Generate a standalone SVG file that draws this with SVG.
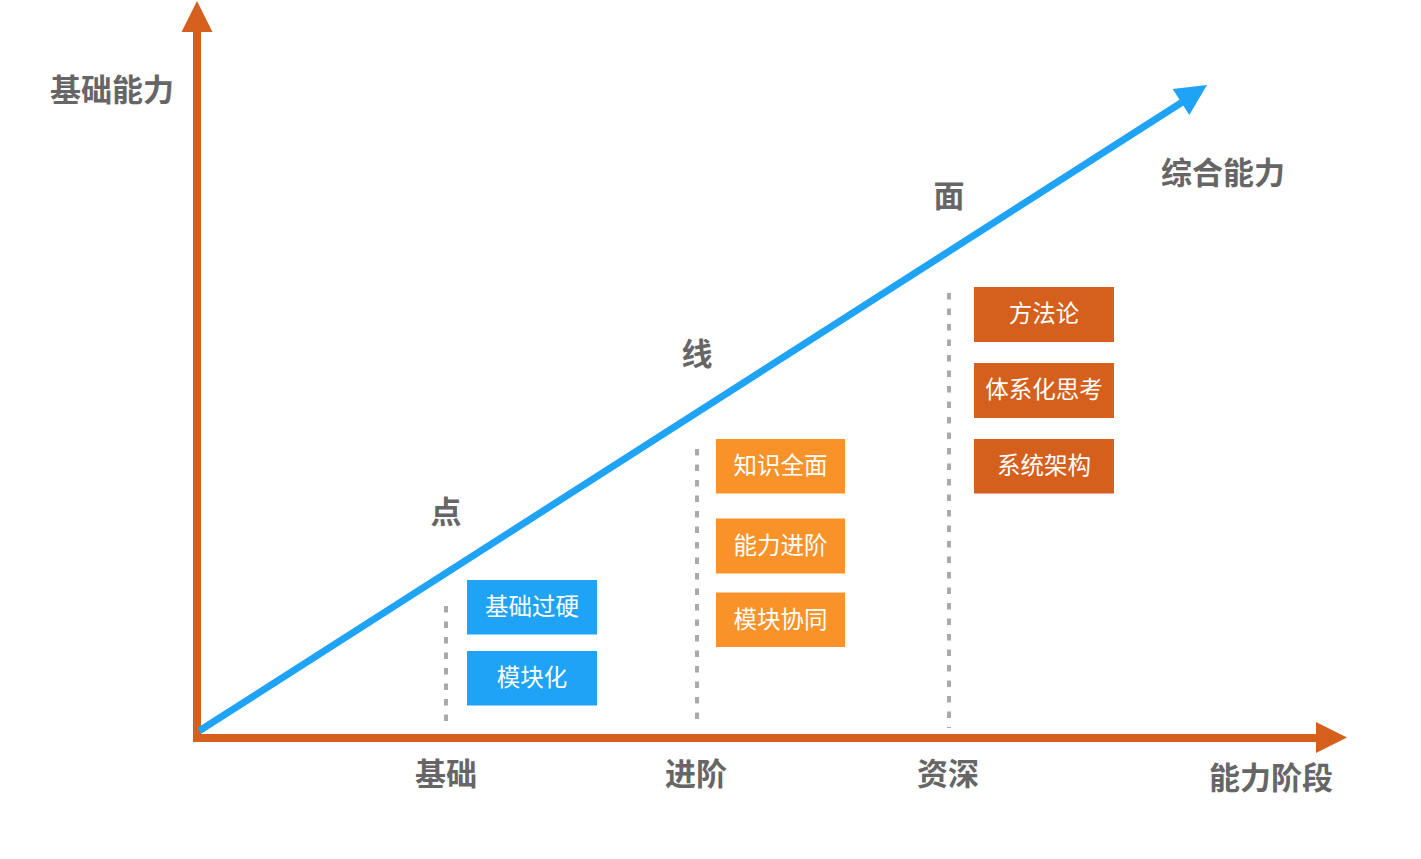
<svg xmlns="http://www.w3.org/2000/svg" width="1421" height="859" viewBox="0 0 1421 859">
<style>
.lbl{font-family:"Noto Sans CJK SC","Noto Sans",sans-serif;font-size:31px;font-weight:bold;fill:#666;text-anchor:middle;dominant-baseline:central}
.bt{font-family:"Noto Sans CJK SC","Noto Sans",sans-serif;font-size:23.5px;fill:#fff;text-anchor:middle;dominant-baseline:central}
.dash{stroke:#aaa;stroke-width:4;stroke-dasharray:6.5 9;fill:none}
.blue{fill:#1FA3F6}
.lo{fill:#F99329}
.dor{fill:#D55F1C}
</style>
<rect width="1421" height="859" fill="#fff"/>
<g id="guides">
<line class="dash" x1="446" y1="606" x2="446" y2="728"/>
<line class="dash" x1="697" y1="449" x2="697" y2="728"/>
<line class="dash" x1="949" y1="293" x2="949" y2="728"/>
</g>
<g id="connectors">
<line x1="197" y1="742" x2="197" y2="30" stroke="#D55F1C" stroke-width="8"/>
<polygon points="197,1 181.5,32 212.5,32" fill="#D55F1C"/>
<line x1="193" y1="738" x2="1318" y2="738" stroke="#D55F1C" stroke-width="8"/>
<polygon points="1316,722 1347,737.5 1316,753" fill="#D55F1C"/>
<line x1="199" y1="731" x2="1184" y2="101" stroke="#1FA3F6" stroke-width="7"/>
<polygon points="1207,85 1172.7,89 1189.3,115" fill="#1FA3F6"/>
</g>
<g id="axis-labels">
<text class="lbl" x="112" y="87">基础能力</text>
<text class="lbl" x="1223" y="170">综合能力</text>
<text class="lbl" x="1271" y="775">能力阶段</text>
<text class="lbl" x="446" y="771">基础</text>
<text class="lbl" x="696" y="771">进阶</text>
<text class="lbl" x="948" y="771">资深</text>
<text class="lbl" x="446" y="509">点</text>
<text class="lbl" x="697" y="351">线</text>
<text class="lbl" x="949" y="193">面</text>
</g>
<g id="n1"><rect class="blue" x="467" y="580" width="130" height="54.5"/><text class="bt" x="532" y="605">基础过硬</text></g>
<g id="n2"><rect class="blue" x="467" y="651" width="130" height="54.5"/><text class="bt" x="532" y="676">模块化</text></g>
<g id="n3"><rect class="lo" x="716" y="439" width="129" height="54.5"/><text class="bt" x="780.5" y="464">知识全面</text></g>
<g id="n4"><rect class="lo" x="716" y="518.5" width="129" height="55"/><text class="bt" x="780.5" y="544">能力进阶</text></g>
<g id="n5"><rect class="lo" x="716" y="592.5" width="129" height="54.5"/><text class="bt" x="780.5" y="618">模块协同</text></g>
<g id="n6"><rect class="dor" x="974" y="287" width="140" height="55"/><text class="bt" x="1044" y="312">方法论</text></g>
<g id="n7"><rect class="dor" x="974" y="363" width="140" height="55"/><text class="bt" x="1044" y="388">体系化思考</text></g>
<g id="n8"><rect class="dor" x="974" y="439" width="140" height="54.5"/><text class="bt" x="1044" y="464">系统架构</text></g>
</svg>
